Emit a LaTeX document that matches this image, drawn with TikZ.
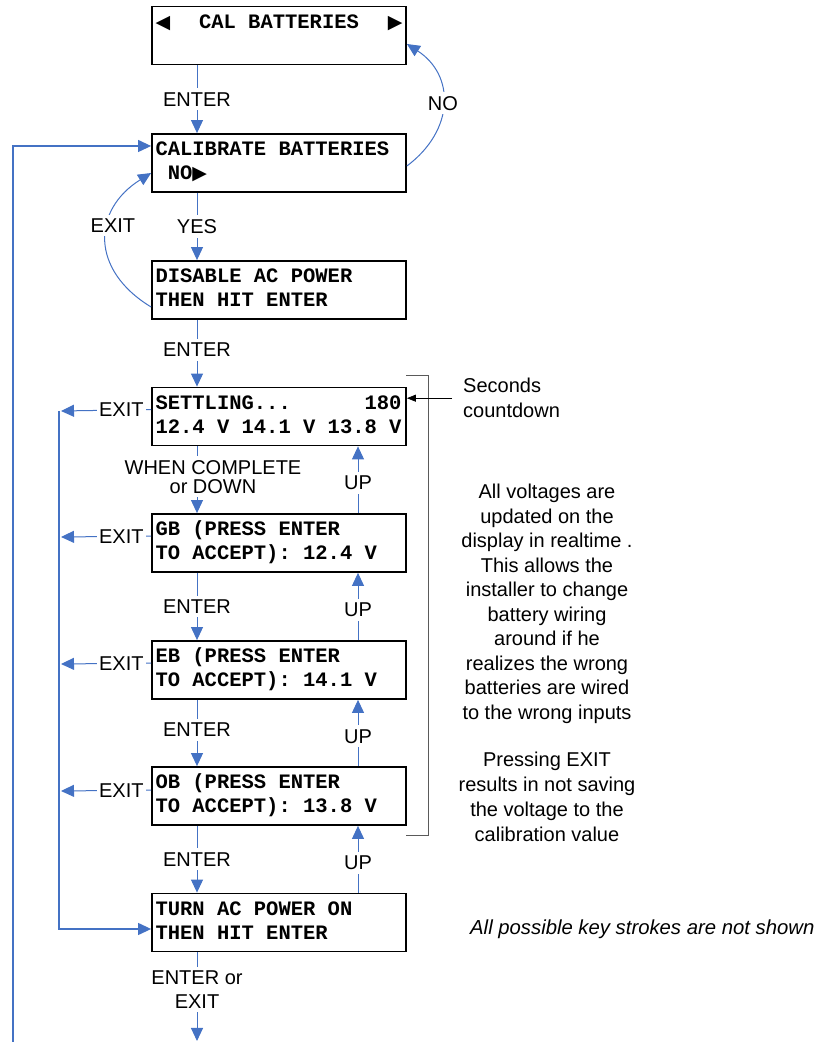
\documentclass[tikz,border=0pt]{standalone}
\usepackage{fontspec}
\setmainfont{Liberation Sans}
\setmonofont{Liberation Mono}
\newfontfamily\symfont{DejaVu Sans}
\usetikzlibrary{arrows.meta,calc}
\definecolor{flowblue}{RGB}{68,114,196}
\definecolor{bracketgray}{RGB}{90,90,90}
\begin{document}
\begin{tikzpicture}[x=1pt,y=1pt,
  lcd/.style={draw=black, line width=1.8pt, rectangle, minimum height=58pt,
    text width=247pt, inner xsep=3.5pt, inner ysep=0pt, align=left,
    font=\ttfamily\bfseries\fontsize{20.5}{24}\selectfont},
  flow/.style={draw=flowblue, line width=1pt, -{Triangle[length=13pt,width=12pt]}},
  rail/.style={flow, line width=1.2pt},
  key/.style={font=\fontsize{20}{24}\selectfont, fill=white, inner xsep=2pt, inner ysep=4pt},
  note/.style={font=\fontsize{20}{24.5}\selectfont, align=center, inner sep=0pt}]
\useasboundingbox (0,0) rectangle (819,1042);
% LCD helpers: arrow glyphs and fixed-pitch character cells
\newcommand{\lcdtri}[1]{{\symfont\fontsize{19}{24}\selectfont #1}}
\newcommand{\lcdsp}[1]{\hspace*{#1em}}
\newcommand{\lsp}{\hspace*{0.6em}}

% LCD screens
\node[lcd] (b1) at (279,1006.5) {\strut\lcdtri{◀}\hfill CAL\lsp BATTERIES\hfill\lcdtri{▶}\\\strut};
\node[lcd] (b2) at (279,879) {\strut CALIBRATE\lsp BATTERIES\\\strut\lsp NO\lcdtri{▶}};
\node[lcd] (b3) at (279,752) {\strut DISABLE\lsp AC\lsp POWER\\\strut THEN\lsp HIT\lsp ENTER};
\node[lcd] (b4) at (279,625.5) {\strut SETTLING...\lcdsp{3.6}180\\\strut 12.4\lsp V\lsp 14.1\lsp V\lsp 13.8\lsp V};
\node[lcd] (b5) at (279,499) {\strut GB\lsp (PRESS\lsp ENTER\\\strut TO\lsp ACCEPT):\lsp 12.4\lsp V};
\node[lcd] (b6) at (279,372) {\strut EB\lsp (PRESS\lsp ENTER\\\strut TO\lsp ACCEPT):\lsp 14.1\lsp V};
\node[lcd] (b7) at (279,246) {\strut OB\lsp (PRESS\lsp ENTER\\\strut TO\lsp ACCEPT):\lsp 13.8\lsp V};
\node[lcd] (b8) at (279,119.5) {\strut TURN\lsp AC\lsp POWER\lsp ON\\\strut THEN\lsp HIT\lsp ENTER};

% free ends of connectors
\coordinate (out) at (197,1);
\coordinate (x4) at (61,631);
\coordinate (x5) at (61,505);
\coordinate (x6) at (61,378);
\coordinate (x7) at (61,251);
\coordinate (r1) at (59,631);
\coordinate (r2) at (59,113);
\coordinate (o1) at (13,0);
\coordinate (o2) at (13,896);

% forward path
\draw[flow] ([xshift=-82pt]b1.south) -- node[key]{ENTER} ([xshift=-82pt]b2.north);
\draw[flow] ([xshift=-82pt]b2.south) -- node[key]{YES} ([xshift=-82pt]b3.north);
\draw[flow] ([xshift=-82pt]b3.south) -- node[key,pos=0.45]{ENTER} ([xshift=-82pt]b4.north);
\draw[flow] ([xshift=-82pt]b4.south) -- node[key,align=center,xshift=16pt,yshift=3pt,font=\fontsize{20}{19}\selectfont]{WHEN COMPLETE\\or DOWN} ([xshift=-82pt]b5.north);
\draw[flow] ([xshift=-82pt]b5.south) -- node[key]{ENTER} ([xshift=-82pt]b6.north);
\draw[flow] ([xshift=-82pt]b6.south) -- node[key,pos=0.45]{ENTER} ([xshift=-82pt]b7.north);
\draw[flow] ([xshift=-82pt]b7.south) -- node[key]{ENTER} ([xshift=-82pt]b8.north);
\draw[flow] ([xshift=-82pt]b8.south) -- node[key,align=center,pos=0.42]{ENTER or\\EXIT} (out);

% going back up
\foreach \lo/\hi in {b5/b4,b6/b5,b7/b6,b8/b7}
  \draw[flow] ([xshift=79pt]\lo.north) -- node[key,pos=0.45]{UP} ([xshift=79pt]\hi.south);

% NO and EXIT loops
\draw[flow] ([yshift=-3pt]b2.east) .. controls (455,912) and (455,967) .. ([yshift=-8.5pt]b1.east) node[key,pos=0.5]{NO};
\draw[flow] ([yshift=-17pt]b3.west) .. controls (90,772) and (92,832) .. ([yshift=-10pt]b2.west) node[key,pos=0.6,xshift=5pt]{EXIT};

% EXIT exits to the return rail
\draw[flow] ([yshift=-23pt]b4.north west) -- node[key,pos=0.33]{EXIT} (x4);
\draw[flow] ([yshift=-23pt]b5.north west) -- node[key,pos=0.33]{EXIT} (x5);
\draw[flow] ([yshift=-23pt]b6.north west) -- node[key,pos=0.33]{EXIT} (x6);
\draw[flow] ([yshift=-24pt]b7.north west) -- node[key,pos=0.33]{EXIT} (x7);
\draw[rail] (r1) -- (r2) -- (r2 -| b8.west);
\draw[rail] (o1) -- (o2) -- (o2 -| b2.west);

% bracket around the measuring screens
\draw[bracketgray, line width=1pt] (406,666) -- (428,666) -- (428,206) -- (406,206);

% annotations
\node[note, anchor=west, align=left, inner xsep=0pt, font=\fontsize{20}{25}\selectfont] (sec) at (463,643.8) {Seconds\\countdown};
\draw[black, line width=0.8pt, -{Triangle[length=9pt,width=7pt]}] ([xshift=-11pt]sec.west) -- (sec.west -| b4.east);
\node[note] (n1) at (547,438) {All voltages are\\updated on the\\display in realtime .\\This allows the\\installer to change\\battery wiring\\around if he\\realizes the wrong\\batteries are wired\\to the wrong inputs};
\node[note, font=\fontsize{20}{25}\selectfont] (n2) at (547,245) {Pressing EXIT\\results in not saving\\the voltage to the\\calibration value};
\node[anchor=west, inner sep=0pt, font=\itshape\fontsize{20.3}{24}\selectfont] (hint) at (470,113) {All possible key strokes are not shown};
\end{tikzpicture}
\end{document}
